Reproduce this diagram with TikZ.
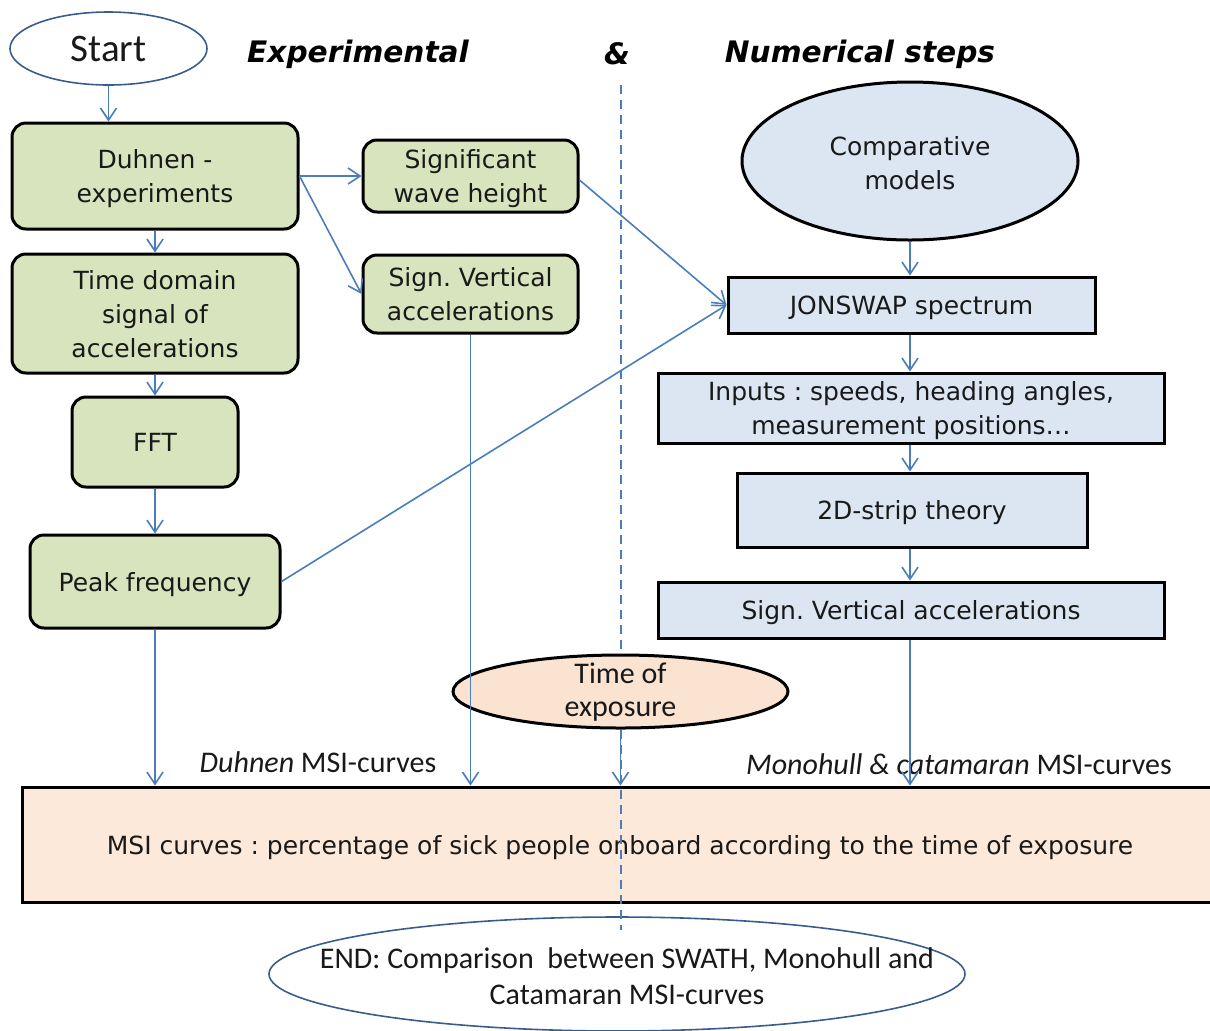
\documentclass[tikz,border=0pt]{standalone}
\usepackage{fontspec}
\setmainfont{Carlito}
\newfontfamily\verd{DejaVu Sans}
\usetikzlibrary{shapes.geometric,arrows.meta}
\definecolor{cgreen}{HTML}{D7E4BD}
\definecolor{cblue}{HTML}{DCE6F2}
\definecolor{cpeach}{HTML}{FDE9D9}
\definecolor{cpeachb}{HTML}{FBE3D2}
\definecolor{arr}{HTML}{4A7EBB}
\definecolor{edgeb}{HTML}{385D8A}
\tikzset{
  boxtext/.style={font=\verd\fontsize{12.5}{17}\selectfont, text=black!90, align=center, inner sep=0pt, text depth=0pt},
  gbox/.style={boxtext, draw=black, line width=1.5pt, fill=cgreen, rounded corners=7pt},
  bbox/.style={boxtext, draw=black, line width=1.5pt, fill=cblue},
  oval/.style={ellipse, draw=edgeb, line width=0.8pt, inner sep=0pt, align=center, text=black!90},
  conn/.style={draw=arr, line width=0.8pt, -{Straight Barb[length=6pt,width=8pt]}},
  lbl/.style={font=\fontsize{15}{17}\selectfont, text=black!90, inner sep=0pt},
  ttl/.style={font=\verd\bfseries\itshape\fontsize{14.8}{17}\selectfont, text=black, inner sep=0pt},
  dashline/.style={draw=arr, line width=0.8pt, dash pattern=on 4.5pt off 3pt}
}
\begin{document}
\frenchspacing
\begin{tikzpicture}[x=0.5pt,y=-0.5pt]
\useasboundingbox (0,0) rectangle (1210,1030);
% titles
\node[ttl] (t1) at (358,54) {Experimental};
\node[ttl] (t2) at (617,54) {\&};
\node[ttl] (t3) at (860,54) {Numerical steps};
% left column
\node[oval, minimum width=98.5pt, minimum height=36.5pt, font=\fontsize{19.5}{22}\selectfont] (start) at (108.5,48.5) {Start};
\node[gbox, minimum width=143pt, minimum height=53pt] (duh) at (155,176) {Duhnen -\\experiments};
\node[gbox, minimum width=143pt, minimum height=59.5pt] (tds) at (155,313.5) {Time domain\\signal of\\accelerations};
\node[gbox, minimum width=83pt, minimum height=45pt] (fft) at (155,442) {FFT};
\node[gbox, minimum width=125pt, minimum height=46.5pt] (peak) at (155,581.5) {Peak frequency};
\node[gbox, minimum width=107.5pt, minimum height=36pt] (swh) at (470.5,176) {Significant\\wave height};
\node[gbox, minimum width=107.5pt, minimum height=39pt] (svl) at (470.5,294) {Sign. Vertical\\accelerations};
% right column
\node[ellipse, draw=black, line width=1.5pt, fill=cblue, minimum width=168pt, minimum height=79pt] (comp) at (910,161) {};
\node[boxtext] (compt) at (910,163) {Comparative\\models};
\node[bbox, minimum width=183.5pt, minimum height=28pt] (jons) at (911.5,305) {JONSWAP spectrum};
\node[bbox, minimum width=253pt, minimum height=35pt] (inp) at (911,408) {Inputs : speeds, heading angles,\\measurement positions\dots};
\node[bbox, minimum width=175pt, minimum height=37pt] (strip) at (912,510) {2D-strip theory};
\node[bbox, minimum width=253pt, minimum height=28pt] (svr) at (911,610) {Sign. Vertical accelerations};
% bottom
\node[bbox, fill=cpeach, minimum width=598pt, minimum height=57.5pt] (msi) at (620,844.5) {MSI curves : percentage of sick people onboard according to the time of exposure};
\node[oval, minimum width=348pt, minimum height=57pt] (endn) at (617,974) {};
\node[font=\fontsize{15}{18}\selectfont, align=center, text=black!90, inner sep=0pt] (endt) at (627,976) {END: Comparison\ \ between SWATH, Monohull and\\Catamaran MSI-curves};
\draw[dashline] (621,85) -- (621,930);
\node[ellipse, draw=black, line width=1.5pt, fill=cpeachb, inner sep=0pt, minimum width=167.5pt, minimum height=36.5pt] (toe) at (620.5,691.5) {};
\node[font=\fontsize{15}{16.5}\selectfont, align=center, text=black!90, inner sep=0pt] (toet) at (620.5,692) {Time of\\exposure};
% labels
\node[lbl] (l1) at (318,762) {\textit{Duhnen} MSI-curves};
\node[lbl] (l2) at (959,764) {\textit{Monohull \& catamaran} MSI-curves};
% connectors
\draw[conn] (start.south) -- (start.south |- duh.north);
\draw[conn] (duh) -- (tds);
\draw[conn] (tds) -- (fft);
\draw[conn] (fft) -- (peak);
\draw[conn] (peak.south) -- (peak.south |- msi.north);
\draw[conn] (duh.east) -- (swh.west);
\draw[conn] (duh.east) -- (svl.west);
\draw[conn] ([yshift=-2pt]swh.east) -- (jons.west);
\draw[conn] (peak.east) -- (jons.west);
\draw[conn] (svl.south) -- (svl.south |- msi.north);
\draw[conn] (comp.south) -- (comp.south |- jons.north);
\draw[conn] (comp.south |- jons.south) -- (comp.south |- inp.north);
\draw[conn] (comp.south |- inp.south) -- (comp.south |- strip.north);
\draw[conn] (comp.south |- strip.south) -- (comp.south |- svr.north);
\draw[conn] (comp.south |- svr.south) -- (comp.south |- msi.north);
\draw[conn] (toe.south) -- (toe.south |- msi.north);
\end{tikzpicture}
\end{document}
